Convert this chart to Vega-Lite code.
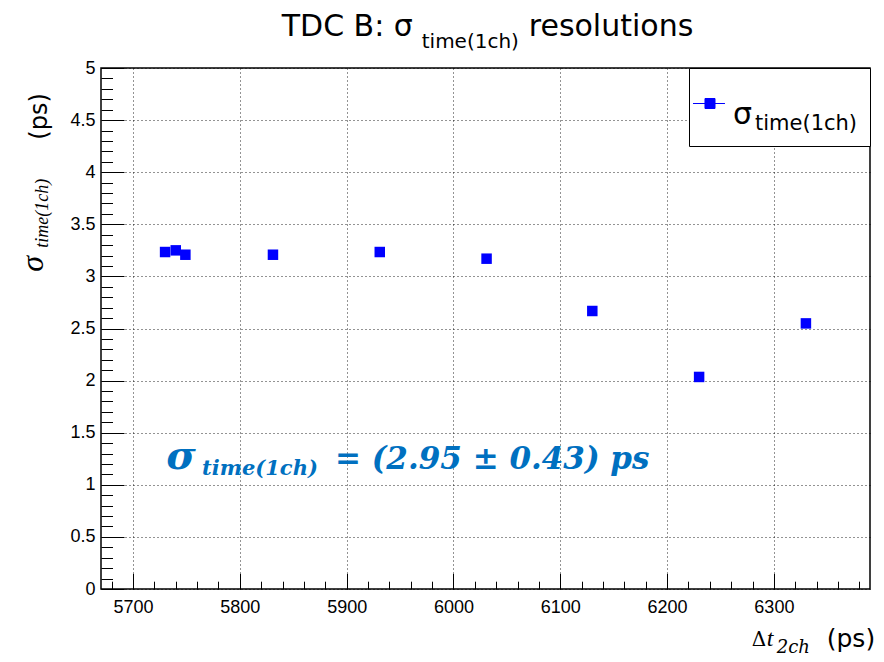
{
  "$schema": "https://vega.github.io/schema/vega-lite/v6.json",
  "width": 769,
  "height": 521,
  "autosize": {"type": "none"},
  "padding": {"left": 101, "top": 68, "right": 14, "bottom": 73},
  "background": "white",
  "config": {
    "view": {"stroke": "#000", "strokeWidth": 1.5},
    "font": "Liberation Sans"
  },
  "resolve": {"axis": {"x": "independent", "y": "independent"}},
  "layer": [
    {
      "data": {"values": []},
      "mark": {"type": "point"},
      "encoding": {
        "x": {"field": "dt", "type": "quantitative",
          "axis": {
            "values": [5680, 5720, 5740, 5760, 5780, 5820, 5840, 5860, 5880, 5920, 5940, 5960, 5980, 6020, 6040, 6060, 6080, 6120, 6140, 6160, 6180, 6220, 6240, 6260, 6280, 6320, 6340, 6360, 6380],
            "orient": "bottom", "title": null, "labels": false, "grid": false, "domain": false,
            "ticks": true, "tickColor": "#000", "tickSize": 7.8, "offset": -7.8, "tickWidth": 1
          }
        },
        "y": {"field": "sigma", "type": "quantitative",
          "axis": {
            "values": [0.1, 0.2, 0.3, 0.4, 0.6, 0.7, 0.8, 0.9, 1.1, 1.2, 1.3, 1.4, 1.6, 1.7, 1.8, 1.9, 2.1, 2.2, 2.3, 2.4, 2.6, 2.7, 2.8, 2.9, 3.1, 3.2, 3.3, 3.4, 3.6, 3.7, 3.8, 3.9, 4.1, 4.2, 4.3, 4.4, 4.6, 4.7, 4.8, 4.9],
            "orient": "left", "title": null, "labels": false, "grid": false, "domain": false,
            "ticks": true, "tickColor": "#000", "tickSize": 11.5, "offset": -11.5, "tickWidth": 1
          }
        }
      }
    },
    {
      "data": {"values": [
        {"dt": 5730, "sigma": 3.234, "series": "σ"},
        {"dt": 5740, "sigma": 3.250, "series": "σ"},
        {"dt": 5749, "sigma": 3.208, "series": "σ"},
        {"dt": 5831, "sigma": 3.208, "series": "σ"},
        {"dt": 5931, "sigma": 3.234, "series": "σ"},
        {"dt": 6031, "sigma": 3.170, "series": "σ"},
        {"dt": 6130, "sigma": 2.668, "series": "σ"},
        {"dt": 6230, "sigma": 2.035, "series": "σ"},
        {"dt": 6330, "sigma": 2.549, "series": "σ"}
      ]},
      "mark": {"type": "square", "filled": true, "size": 110, "opacity": 1},
      "encoding": {
        "x": {
          "field": "dt", "type": "quantitative",
          "scale": {"domain": [5670, 6390], "nice": false, "zero": false},
          "axis": {
            "values": [5700, 5800, 5900, 6000, 6100, 6200, 6300],
            "orient": "bottom",
            "format": "d", "title": null, "domain": false,
            "grid": true, "gridColor": "#000", "gridDash": [1, 3], "gridWidth": 1, "gridOpacity": 0.85,
            "ticks": true, "tickColor": "#000", "tickSize": 15.6, "offset": -15.6, "tickWidth": 1,
            "labelFont": "Liberation Sans", "labelFontSize": 18, "labelColor": "#000",
            "labelPadding": 9, "labelFlush": false, "labelOverlap": false
          }
        },
        "y": {
          "field": "sigma", "type": "quantitative",
          "scale": {"domain": [0, 5], "nice": false, "zero": false},
          "axis": {
            "values": [0, 0.5, 1, 1.5, 2, 2.5, 3, 3.5, 4, 4.5, 5],
            "orient": "left",
            "format": "~g", "title": null, "domain": false,
            "grid": true, "gridColor": "#000", "gridDash": [1, 3], "gridWidth": 1, "gridOpacity": 0.85,
            "ticks": true, "tickColor": "#000", "tickSize": 23, "offset": -23, "tickWidth": 1,
            "labelFont": "Liberation Sans", "labelFontSize": 18, "labelColor": "#000",
            "labelPadding": 6, "labelFlush": false, "labelOverlap": false
          }
        },
        "color": {
          "field": "series", "type": "nominal",
          "scale": {"range": ["#0000ff"]},
          "legend": {
            "orient": "top-right", "offset": 0,
            "title": "time(1ch)", "titleOrient": "right", "titleAnchor": "end",
            "titleFont": "DejaVu Sans", "titleFontSize": 21, "titleFontWeight": "normal",
            "titleColor": "#000", "titlePadding": 3,
            "symbolType": "M-1.37,0H0.02M-0.848,-0.217H-0.413V0.217H-0.848Z",
            "symbolSize": 2116,
            "symbolFillColor": "#0000ff", "symbolStrokeColor": "#0000ff", "symbolStrokeWidth": 1,
            "labelFont": "DejaVu Sans", "labelFontSize": 30, "labelColor": "#000", "labelOffset": -15,
            "padding": 12, "strokeColor": "#000", "fillColor": "#fff", "cornerRadius": 0,
            "encoding": {
              "title": {"dy": {"value": 4}},
              "labels": {"dy": {"value": 11}}
            }
          }
        }
      }
    },
    {
      "data": {"values": [{}]},
      "mark": {"type": "text", "text": "σ", "font": "DejaVu Serif", "fontStyle": "italic", "fontWeight": "bold", "fontSize": 40, "color": "#0070C0", "align": "left", "baseline": "alphabetic"},
      "encoding": {
        "x": {"datum": 5731, "type": "quantitative", "axis": null},
        "y": {"datum": 1.1545, "type": "quantitative", "axis": null}
      }
    },
    {
      "data": {"values": [{}]},
      "mark": {"type": "text", "text": "time(1ch)", "font": "DejaVu Serif", "fontStyle": "italic", "fontWeight": "bold", "fontSize": 21, "color": "#0070C0", "align": "left", "baseline": "alphabetic"},
      "encoding": {
        "x": {"datum": 5764.6, "type": "quantitative", "axis": null},
        "y": {"datum": 1.097, "type": "quantitative", "axis": null}
      }
    },
    {
      "data": {"values": [{}]},
      "mark": {"type": "text", "text": "= (2.95 ± 0.43) ps", "font": "DejaVu Serif", "fontStyle": "italic", "fontWeight": "bold", "fontSize": 31, "color": "#0070C0", "align": "left", "baseline": "alphabetic"},
      "encoding": {
        "x": {"datum": 5889, "type": "quantitative", "axis": null},
        "y": {"datum": 1.1545, "type": "quantitative", "axis": null}
      }
    },
    {
      "data": {"values": [{}]},
      "mark": {"type": "text", "text": "TDC B: σ", "font": "DejaVu Sans", "fontSize": 30, "color": "#000", "align": "left", "baseline": "alphabetic"},
      "encoding": {
        "x": {"datum": 5839.2, "type": "quantitative", "axis": null},
        "y": {"datum": 5.31, "type": "quantitative", "axis": null}
      }
    },
    {
      "data": {"values": [{}]},
      "mark": {"type": "text", "text": "time(1ch)", "font": "DejaVu Sans", "fontSize": 20, "color": "#000", "align": "left", "baseline": "alphabetic"},
      "encoding": {
        "x": {"datum": 5970.3, "type": "quantitative", "axis": null},
        "y": {"datum": 5.195, "type": "quantitative", "axis": null}
      }
    },
    {
      "data": {"values": [{}]},
      "mark": {"type": "text", "text": "resolutions", "font": "DejaVu Sans", "fontSize": 30, "color": "#000", "align": "left", "baseline": "alphabetic"},
      "encoding": {
        "x": {"datum": 6070.5, "type": "quantitative", "axis": null},
        "y": {"datum": 5.31, "type": "quantitative", "axis": null}
      }
    },
    {
      "data": {"values": [{}]},
      "mark": {"type": "text", "text": "σ", "font": "Liberation Serif", "fontStyle": "italic", "fontSize": 32, "color": "#000", "align": "left", "baseline": "alphabetic", "angle": -90},
      "encoding": {
        "x": {"datum": 5615.7, "type": "quantitative", "axis": null},
        "y": {"datum": 3.045, "type": "quantitative", "axis": null}
      }
    },
    {
      "data": {"values": [{}]},
      "mark": {"type": "text", "text": "time(1ch)", "font": "Liberation Serif", "fontStyle": "italic", "fontSize": 18, "color": "#000", "align": "left", "baseline": "alphabetic", "angle": -90},
      "encoding": {
        "x": {"datum": 5620.4, "type": "quantitative", "axis": null},
        "y": {"datum": 3.275, "type": "quantitative", "axis": null}
      }
    },
    {
      "data": {"values": [{}]},
      "mark": {"type": "text", "text": "(ps)", "font": "DejaVu Sans", "fontSize": 24, "color": "#000", "align": "left", "baseline": "alphabetic", "angle": -90},
      "encoding": {
        "x": {"datum": 5619.4, "type": "quantitative", "axis": null},
        "y": {"datum": 4.312, "type": "quantitative", "axis": null}
      }
    },
    {
      "data": {"values": [{}]},
      "mark": {"type": "text", "text": "Δ", "font": "DejaVu Serif", "fontSize": 20, "color": "#000", "align": "left", "baseline": "alphabetic"},
      "encoding": {
        "x": {"datum": 6279.3, "type": "quantitative", "axis": null},
        "y": {"datum": -0.551, "type": "quantitative", "axis": null}
      }
    },
    {
      "data": {"values": [{}]},
      "mark": {"type": "text", "text": "t", "font": "Liberation Serif", "fontStyle": "italic", "fontSize": 24, "color": "#000", "align": "left", "baseline": "alphabetic"},
      "encoding": {
        "x": {"datum": 6293.3, "type": "quantitative", "axis": null},
        "y": {"datum": -0.551, "type": "quantitative", "axis": null}
      }
    },
    {
      "data": {"values": [{}]},
      "mark": {"type": "text", "text": "2ch", "font": "DejaVu Serif", "fontStyle": "italic", "fontSize": 18, "color": "#000", "align": "left", "baseline": "alphabetic"},
      "encoding": {
        "x": {"datum": 6302.7, "type": "quantitative", "axis": null},
        "y": {"datum": -0.614, "type": "quantitative", "axis": null}
      }
    },
    {
      "data": {"values": [{}]},
      "mark": {"type": "text", "text": "(ps)", "font": "DejaVu Sans", "fontSize": 25, "color": "#000", "align": "left", "baseline": "alphabetic"},
      "encoding": {
        "x": {"datum": 6349.5, "type": "quantitative", "axis": null},
        "y": {"datum": -0.554, "type": "quantitative", "axis": null}
      }
    }
  ]
}
